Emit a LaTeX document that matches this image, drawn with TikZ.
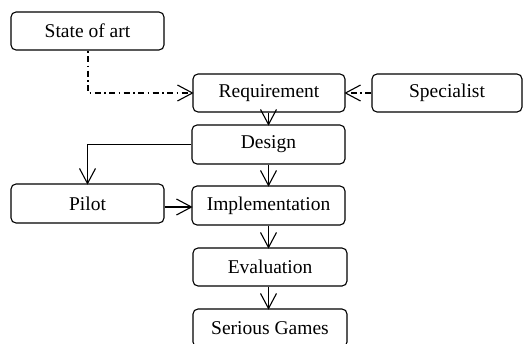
\documentclass[tikz,border=0pt]{standalone}
\usepackage{fontspec}
\setmainfont{Liberation Serif}
\begin{document}
\begin{tikzpicture}[x=1pt,y=-1pt,
  box/.style={draw, line width=1.1pt, rounded corners=5pt, inner sep=0pt,
    font=\fontsize{19.5}{23}\selectfont},
  link/.style={line width=1.1pt},
  dashdot/.style={dash pattern=on 6pt off 3.5pt on 1.5pt off 3.5pt},
  % open V head whose tip sits at the pic's origin, pointing along +x
  vee/.pic={\draw[line width=1.1pt, solid, miter limit=10] (-15,8) -- (0,0) -- (-15,-8);}]
  \useasboundingbox (0,0) rectangle (526,343);
  % boxes
  \node[box, minimum width=153pt, minimum height=38pt] (state) at (87.5,31) {State of art};
  \node[box, minimum width=152pt, minimum height=38pt] (req) at (269,93) {Requirement};
  \node[box, minimum width=150pt, minimum height=38pt] (spec) at (447,93) {Specialist};
  \node[box, minimum width=153pt, minimum height=39pt] (design) at (268.5,144.5) {Design};
  \node[box, minimum width=153pt, minimum height=39pt] (pilot) at (87.5,203.5) {Pilot};
  \node[box, minimum width=153pt, minimum height=39pt] (impl) at (268.5,205.5) {Implementation};
  \node[box, minimum width=154pt, minimum height=38pt] (eval) at (270,267) {Evaluation};
  \node[box, minimum width=154pt, minimum height=38pt] (games) at (270,328) {Serious Games};
  % connectors
  \coordinate (start) at (88,50);
  \coordinate (bend) at (88,93);
  \coordinate (pilotout) at (pilot.east |- 0,207);
  \coordinate (implin) at (impl.west |- 0,207);
  \coordinate (evalin) at (eval.north -| impl.south);
  \coordinate (evalout) at (eval.south -| impl.south);
  \coordinate (gamesin) at (games.north -| impl.south);
  \coordinate (reqout) at (req.south -| design.north);
  \draw[link, dashdot, dash phase=-6pt] (start) -- (bend) -- (req.west);
  \pic at (req.west) {vee};
  \draw[link, dashdot] (spec.west) -- (req.east);
  \pic[rotate=180] at (req.east) {vee};
  \draw[link] (reqout) -- (design.north);
  \pic[rotate=-90] at (design.north) {vee};
  \draw[link] (design.west) -| (pilot.north);
  \pic[rotate=-90] at (pilot.north) {vee};
  \draw[link] (design.south) -- (impl.north);
  \pic[rotate=-90] at (impl.north) {vee};
  \draw[link] (pilotout) -- (implin);
  \pic at (implin) {vee};
  \draw[link] (impl.south) -- (evalin);
  \pic[rotate=-90] at (evalin) {vee};
  \draw[link] (evalout) -- (gamesin);
  \pic[rotate=-90] at (gamesin) {vee};
\end{tikzpicture}
\end{document}
